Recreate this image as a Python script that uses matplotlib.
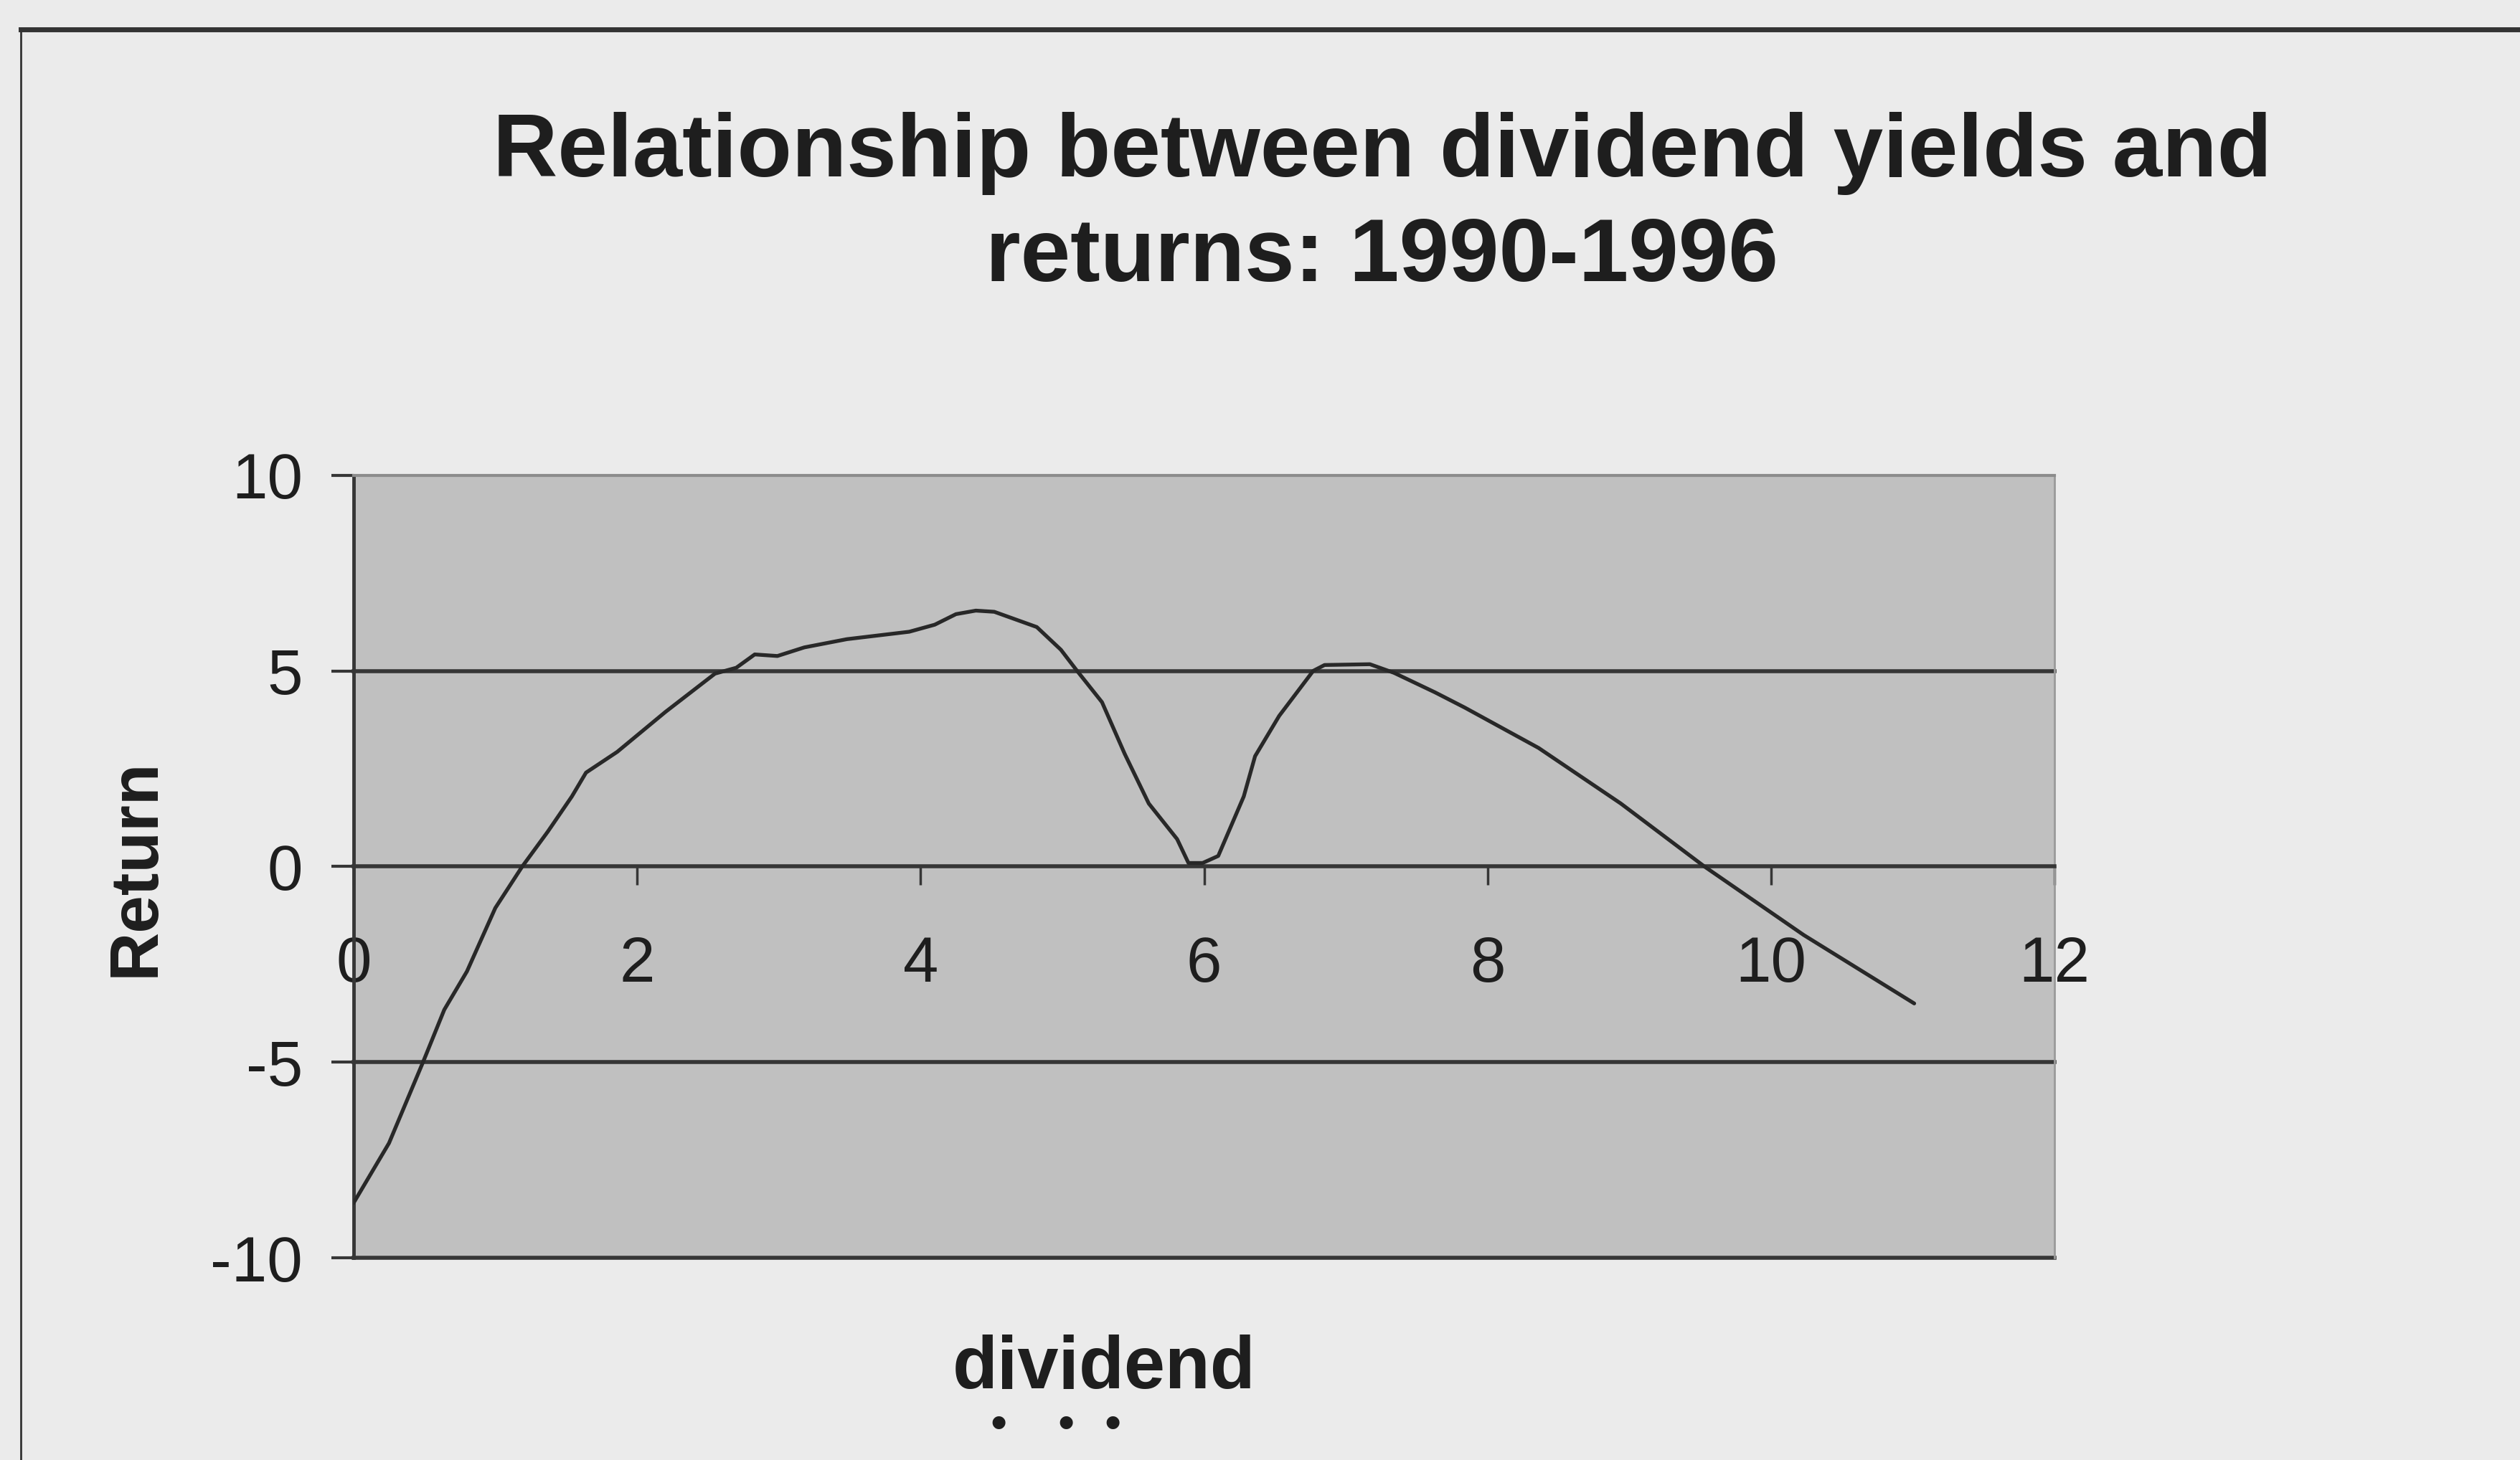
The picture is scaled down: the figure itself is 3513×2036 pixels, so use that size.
import matplotlib.pyplot as plt
from matplotlib.lines import Line2D

plt.rcParams['font.family'] = ['Liberation Sans', 'DejaVu Sans']

# dividend yield vs. return, 1990-1996
dividend = [0.0, 0.25, 0.49, 0.64, 0.80, 1.0, 1.19, 1.37, 1.54, 1.64,
            1.86, 2.2, 2.55, 2.70, 2.83, 2.99, 3.18, 3.48, 3.92, 4.10,
            4.25, 4.39, 4.52, 4.82, 4.99, 5.10, 5.28, 5.44, 5.61, 5.81,
            5.89, 5.99, 6.10, 6.28, 6.36, 6.53, 6.77, 6.85, 7.17, 7.34,
            7.63, 7.84, 8.36, 8.94, 9.53, 10.23, 11.01]
returns = [-8.6, -7.07, -5.0, -3.66, -2.68, -1.06, 0.0, 0.89, 1.79, 2.40,
           2.93, 3.95, 4.93, 5.08, 5.42, 5.38, 5.60, 5.81, 6.0, 6.18,
           6.45, 6.54, 6.51, 6.12, 5.54, 5.02, 4.2, 2.88, 1.61, 0.70,
           0.09, 0.09, 0.27, 1.79, 2.82, 3.85, 5.0, 5.15, 5.17, 4.95,
           4.45, 4.06, 3.03, 1.61, 0.0, -1.75, -3.5]

xticks = [0, 2, 4, 6, 8, 10, 12]
yticks = [-10, -5, 0, 5, 10]

title_lines = ['Relationship between dividend yields and', 'returns: 1990-1996']

fig = plt.figure(figsize=(35.13, 20.36), dpi=100, facecolor='#ebebeb')
ax = fig.add_axes([0.1403, 0.1385, 0.675, 0.536])
ax.set_facecolor('#c0c0c0')

ax.plot(dividend, returns, color='#282828', lw=3.8, zorder=4,
        solid_joinstyle='round', solid_capstyle='round')

# horizontal gridlines (0 is the x axis itself)
for y in (-10, -5, 5):
    ax.axhline(y, color='#363636', lw=4, zorder=2, clip_on=False)

ax.set_xlim(0, 12)
ax.set_ylim(-10, 10)

ax.spines['bottom'].set_position(('data', 0))
ax.spines['bottom'].set_color('#363636')
ax.spines['bottom'].set_linewidth(4)
ax.spines['bottom'].set_zorder(3)
ax.spines['left'].set_color('#363636')
ax.spines['left'].set_linewidth(3.5)
ax.spines['top'].set_color('#8c8c8c')
ax.spines['top'].set_linewidth(3)
ax.spines['right'].set_color('#9a9a9a')
ax.spines['right'].set_linewidth(2)

ax.set_xticks(xticks)
ax.set_xticklabels([str(t) for t in xticks])
ax.set_yticks(yticks)
ax.set_yticklabels([str(t) for t in yticks])
ax.tick_params(axis='x', direction='out', length=19, width=2.5, color='#363636',
               pad=50, labelsize=64, labelcolor='#1e1e1e')
ax.tick_params(axis='y', direction='out', length=22, width=3, color='#363636',
               pad=29, labelsize=64, labelcolor='#1e1e1e')

fig.text(0.5485, 0.879, title_lines[0], ha='center', va='baseline',
         fontsize=90, fontweight='bold', color='#1e1e1e')
fig.text(0.5485, 0.8075, title_lines[1], ha='center', va='baseline',
         fontsize=90, fontweight='bold', color='#1e1e1e')

fig.text(0.054, 0.406, 'Return', rotation=90, ha='center', va='center',
         fontsize=68, fontweight='bold', color='#1e1e1e')
fig.text(0.438, 0.049, 'dividend', ha='center', va='baseline',
         fontsize=74, fontweight='bold', color='#1e1e1e')

# partly cut-off second line under the axis title
for xd in (0.3962, 0.423, 0.4415):
    fig.text(xd, 0.023, '\u2022', ha='center', va='center',
             fontsize=48, color='#1e1e1e')

# outer frame of the chart area
fig.add_artist(Line2D([0.0083, 1.0], [0.980, 0.980], color='#333333', lw=5,
                      transform=fig.transFigure))
fig.add_artist(Line2D([0.0083, 0.0083], [0.0, 0.980], color='#333333', lw=2,
                      transform=fig.transFigure))

fig.savefig('out.png', dpi=100, facecolor=fig.get_facecolor())
